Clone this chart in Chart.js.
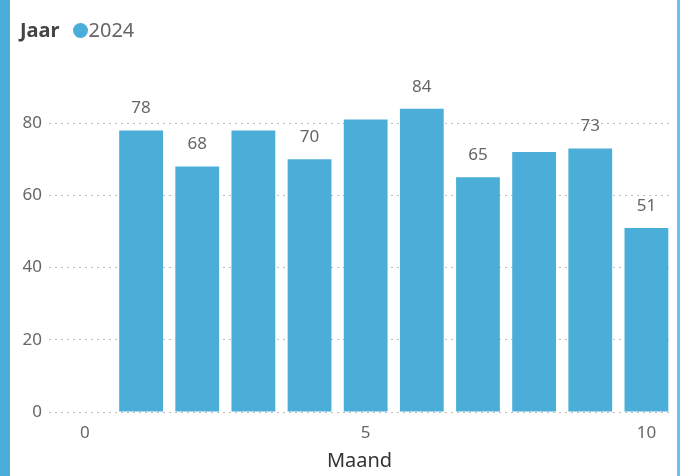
<!DOCTYPE html>
<html>
<head>
<meta charset="utf-8">
<script src="https://cdn.jsdelivr.net/npm/chart.js@4"></script>
<style>
  html, body { margin: 0; padding: 0; background: #fff; }
  #wrap { position: relative; width: 680px; height: 476px; overflow: hidden; }
  #leftBar { position: absolute; left: 0; top: 0; width: 10px; height: 476px; background: #4aaed9; }
  #rightBar { position: absolute; right: 0; top: 0; width: 3px; height: 476px; background: #6fc0e3; }
  #legend { position: absolute; left: 20px; top: 16px; font-family: "Noto Sans", sans-serif; font-size: 20px; color: #666; line-height: 28px; }
  #legend b { color: #444; margin-right: 13px; }
  #legend .dot { display: inline-block; width: 15px; height: 15px; border-radius: 50%; background: #4aaed9; vertical-align: -1px; margin-right: 1px; }
  canvas { position: absolute; left: 0; top: 0; }
</style>
</head>
<body>
<div id="wrap">
  <canvas id="chart" width="680" height="476"></canvas>
  <div id="leftBar"></div>
  <div id="rightBar"></div>
  <div id="legend"><b>Jaar</b><span class="dot"></span>2024</div>
</div>
<script>
// data
const months = [1, 2, 3, 4, 5, 6, 7, 8, 9, 10]
const values2024 = [78, 68, 78, 70, 81, 84, 65, 72, 73, 51]
// Power BI hid a few labels that would overlap
const labelShown = [true, true, false, true, false, true, true, false, true, true]
const yTicks = [0, 20, 40, 60, 80]
const xTicks = [0, 5, 10]

const barColor = '#4aaed9'

const valueLabels = {
  id: 'valueLabels',
  afterDatasetsDraw(chart) {
    const ctx = chart.ctx
    const meta = chart.getDatasetMeta(0)
    ctx.save()
    ctx.font = '17px "Noto Sans", sans-serif'
    ctx.fillStyle = '#666'
    ctx.textAlign = 'center'
    ctx.textBaseline = 'middle'
    meta.data.forEach((bar, i) => {
      if (!labelShown[i]) return
      ctx.fillText(values2024[i], bar.x, bar.y - 22)
    })
    ctx.restore()
  }
}

new Chart(document.getElementById('chart'), {
  type: 'bar',
  data: {
    datasets: [{
      label: '2024',
      backgroundColor: barColor,
      data: months.map((m, i) => ({ x: m, y: values2024[i] })),
      barPercentage: 0.78,
      categoryPercentage: 1
    }]
  },
  options: {
    responsive: false,
    animation: false,
    layout: { padding: { top: 51, right: 10, left: 0, bottom: 0 } },
    plugins: { legend: { display: false }, tooltip: { enabled: false } },
    scales: {
      x: {
        type: 'linear',
        min: -0.64,
        max: 10.42,
        offset: false,
        afterBuildTicks: (s) => { s.ticks = xTicks.map(v => ({ value: v })) },
        afterFit: (s) => { s.height = 64 },
        grid: { display: false, drawTicks: false },
        border: { display: false },
        ticks: { color: '#666', padding: 11, font: { family: 'Noto Sans', size: 17 } },
        title: {
          display: true,
          text: 'Maand',
          color: '#333',
          padding: { top: 3, bottom: 3 },
          font: { family: 'Noto Sans', size: 20 }
        }
      },
      y: {
        min: 0,
        max: 100,
        afterBuildTicks: (s) => { s.ticks = yTicks.map(v => ({ value: v })) },
        afterFit: (s) => { s.width = 49 },
        grid: { color: '#bdbdbd', drawTicks: false, lineWidth: 1 },
        border: { display: false, dash: [2, 4] },
        ticks: { color: '#666', padding: 7, font: { family: 'Noto Sans', size: 17 } }
      }
    }
  },
  plugins: [valueLabels]
})
</script>
</body>
</html>
